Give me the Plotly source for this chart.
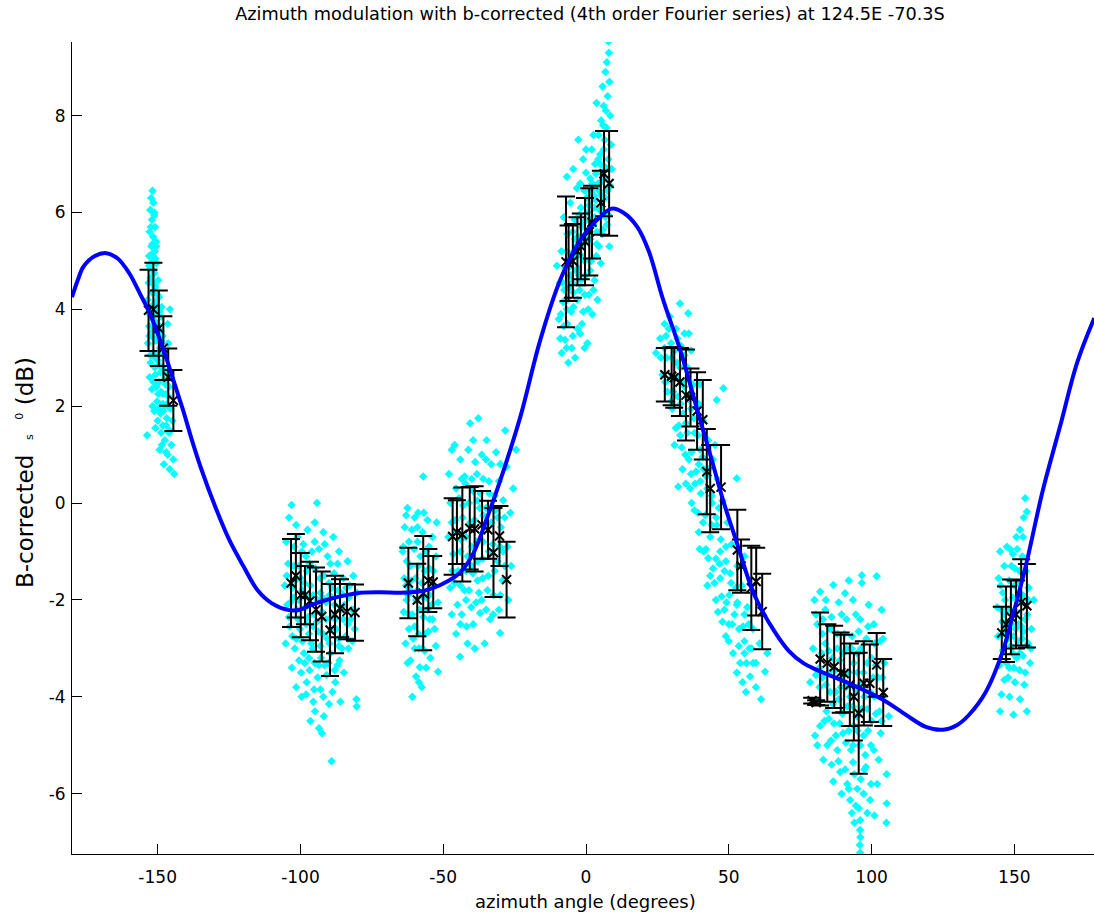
import plotly.graph_objects as go

# ---------------- data ----------------
title_text = "Azimuth modulation with b-corrected (4th order Fourier series) at 124.5E -70.3S"
x_title = "azimuth angle (degrees)"
y_title = ("B-corrected&nbsp;&nbsp;<span style='font-size:11px'>s</span>&nbsp;&nbsp;"
           "<sup><span style='font-size:11px'>0</span></sup>&nbsp;(dB)")

x_ticks = [-150, -100, -50, 0, 50, 100, 150]
x_ticktext = ["-150", "-100", "-50", "0", "50", "100", "150"]
y_ticks = [-6, -4, -2, 0, 2, 4, 6, 8]
y_ticktext = ["-6", "-4", "-2", "0", "2", "4", "6", "8"]

# fitted 4th-order Fourier curve
curve_x = [-180, -178, -176, -172, -168, -164, -160, -156, -153, -150, -147, -144, -141, -138,
           -135, -130, -125, -120, -115, -110, -104, -100, -97, -91, -84, -79, -72, -65, -59,
           -55, -51, -45, -40, -34, -29, -23, -16, -9, -2, 5, 9, 13, 18, 22, 27, 33, 39, 44,
           48, 53, 59, 66, 71, 76, 81, 92, 104, 112, 119, 125, 130, 134, 140, 146, 150, 154, 160,
           166, 172, 178]
curve_y = [4.25, 4.6, 4.88, 5.1, 5.16, 5.05, 4.75, 4.3, 3.95, 3.5, 3.0, 2.45, 1.9, 1.3,
           0.75, -0.05, -0.75, -1.3, -1.8, -2.07, -2.21, -2.2, -2.12, -2.0, -1.9, -1.85, -1.84,
           -1.85, -1.83, -1.78, -1.69, -1.48, -1.1, -0.2, 0.65, 1.78, 3.37, 4.61, 5.43, 5.91,
           6.08, 6.0, 5.7, 5.2, 4.2, 3.16, 1.92, 0.9, 0.06, -0.85, -1.9, -2.65, -3.05, -3.3, -3.45,
           -3.72, -4.06, -4.37, -4.62, -4.68, -4.58, -4.38, -3.9, -3.05, -2.2, -1.3, 0.27,
           1.58, 2.9, 3.82]

# binned means with +/- std error bars
bar_x = [-153.2, -151.5, -149.6, -148.0, -146.3, -144.5,
         -103.3, -101.6, -99.9, -98.4, -96.65, -94.55, -92.55, -89.65, -87.9, -86.15, -83.7, -80.9,
         -62.2, -59.1, -57.0, -55.2, -53.5,
         -46.7, -45.2, -43.3, -40.7, -39.0, -36.4, -34.3, -32.4, -30.3, -27.8,
         -7.0, -6.1, -4.6, -3.0, -1.8, -0.35, 1.15, 2.1, 5.2, 6.3, 8.1,
         27.6, 30.0, 30.9, 32.9, 35.0, 36.6, 38.9, 40.9, 42.3, 43.5, 47.3, 53.0, 54.3, 57.9, 59.6, 61.7,
         79.2, 80.6, 82.0, 84.5, 86.9, 89.2, 90.4, 92.4, 93.8, 95.5, 97.3, 99.4, 101.8, 104.1,
         145.6, 147.1, 148.8, 150.6, 152.4, 154.4]
bar_mean = [3.98, 4.0, 3.61, 3.2, 2.6, 2.12,
            -1.65, -1.5, -1.9, -1.9, -2.02, -2.2, -2.34, -2.62, -2.3, -2.17, -2.24, -2.26,
            -1.65, -2.0, -1.86, -1.6, -1.63,
            -0.69, -0.6, -0.65, -0.52, -0.53, -0.45, -0.55, -1.02, -0.68, -1.58,
            4.98, 4.95, 5.0, 5.2, 5.3, 5.4, 5.6, 5.8, 6.2, 6.8, 6.6,
            2.65, 2.62, 2.59, 2.5, 2.23, 2.18, 1.9, 1.72, 0.65, 0.3, 0.33, -0.97, -1.3, -1.75, -1.62, -2.24,
            -4.08, -4.12, -3.22, -3.3, -3.38, -3.5, -3.52, -3.75, -4.0, -4.34, -3.72, -3.72, -3.34, -3.91,
            -2.68, -2.5, -2.35, -2.3, -2.05, -2.12]
bar_err = [0.84, 0.96, 0.78, 0.66, 0.59, 0.63,
           0.91, 0.86, 0.87, 0.6, 0.81, 0.87, 0.93, 0.95, 0.8, 0.6, 0.57, 0.58,
           0.73, 0.75, 1.18, 0.65, 0.54,
           0.79, 0.66, 0.97, 0.85, 0.88, 0.7, 0.6, 0.92, 0.62, 0.78,
           1.35, 0.78, 0.76, 0.7, 0.68, 0.9, 0.9, 0.75, 0.66, 0.88, 1.08,
           0.55, 0.6, 0.62, 0.7, 0.94, 0.6, 0.8, 0.82, 0.88, 0.9, 0.87, 0.83, 0.55, 0.87, 0.7, 0.78,
           0.06, 0.05, 0.96, 0.8, 0.85, 0.83, 0.8, 0.85, 0.9, 1.25, 0.87, 0.8, 0.66, 0.69,
           0.54, 0.78, 0.77, 0.7, 0.89, 0.86]

# individual observations (cyan), one list per azimuth cluster
cloud_m150 = [(-151.8, 6.45), (-152.3, 6.3), (-151.5, 6.2), (-152.6, 6.05), (-151.2, 5.95), (-152.0, 5.85),
              (-150.9, 5.7), (-152.8, 5.6), (-151.6, 5.5), (-150.6, 5.4), (-152.2, 5.3), (-151.0, 5.2),
              (-153.0, 5.1), (-151.8, 5.0), (-150.4, 4.95), (-152.5, 4.85), (-151.2, 4.75), (-149.8, 4.6),
              (-153.2, 4.55), (-150.8, 4.45), (-152.0, 4.35), (-149.5, 4.25), (-153.5, 4.2), (-151.4, 4.1),
              (-150.2, 4.0), (-152.7, 3.9), (-148.8, 3.85), (-151.0, 3.75), (-153.0, 3.65), (-149.8, 3.6),
              (-152.2, 3.5), (-148.3, 3.45), (-150.6, 3.35), (-153.4, 3.3), (-149.2, 3.2), (-151.6, 3.1),
              (-147.6, 3.05), (-150.0, 2.95), (-152.5, 2.9), (-148.6, 2.8), (-146.8, 2.7), (-150.8, 2.65),
              (-149.5, 2.5), (-147.2, 2.45), (-152.0, 2.35), (-148.2, 2.25), (-146.2, 2.2), (-150.2, 2.1),
              (-147.5, 2.0), (-145.5, 1.95), (-149.0, 1.85), (-146.8, 1.75), (-144.8, 1.7), (-148.2, 1.6),
              (-150.8, 1.55), (-146.0, 1.45), (-153.7, 1.4), (-147.5, 1.3), (-145.2, 1.2), (-149.3, 1.1),
              (-146.5, 1.0), (-144.5, 0.9), (-147.8, 0.8), (-145.8, 0.7), (-144.2, 0.6), (-151.2, 1.9),
              (-145.5, 2.6), (-146.3, 3.3), (-148.6, 4.05), (-145.7, 4.0), (-146.5, 3.7),
              (-152.4, 4.65), (-151.0, 4.5), (-150.0, 4.3), (-152.8, 4.0), (-151.8, 3.8), (-150.6, 3.9),
              (-149.3, 3.95), (-152.0, 3.65), (-150.4, 3.55), (-148.8, 3.35), (-151.2, 3.4), (-149.8, 3.05),
              (-148.2, 3.1), (-151.0, 2.8), (-149.0, 2.7), (-147.8, 2.55), (-150.4, 2.4), (-148.8, 2.3),
              (-147.0, 2.25), (-149.7, 1.95), (-148.0, 1.9), (-146.6, 2.05), (-148.8, 1.45), (-147.0, 1.6),
              (-151.5, 4.8), (-150.8, 5.05), (-151.9, 5.15), (-152.4, 5.7), (-151.2, 6.0), (-152.9, 3.45),
              (-153.0, 4.9), (-152.0, 4.55), (-150.6, 4.15), (-151.6, 3.55), (-150.0, 3.7), (-149.0, 3.55),
              (-152.6, 3.05), (-151.0, 3.0), (-149.5, 2.85), (-148.0, 2.75), (-151.5, 2.5), (-149.8, 2.25),
              (-148.2, 2.05), (-146.0, 2.4), (-150.0, 1.7), (-148.5, 1.2), (-147.0, 1.05), (-145.8, 1.5),
              (-152.8, 2.6), (-151.8, 2.0), (-150.5, 5.3), (-151.8, 5.35)]
cloud_m95 = [(-103.1, -0.04), (-94.2, 0.0), (-104.0, -0.3), (-101.5, -0.45), (-97.5, -0.55), (-95.0, -0.4),
             (-92.0, -0.6), (-88.5, -0.7), (-105.0, -0.8), (-102.2, -0.9), (-99.0, -0.85), (-96.0, -1.0),
             (-93.5, -0.95), (-90.5, -1.1), (-86.5, -1.0), (-83.5, -1.2), (-104.3, -1.25), (-100.5, -1.3),
             (-97.8, -1.4), (-94.8, -1.35), (-91.8, -1.5), (-88.2, -1.45), (-85.0, -1.55), (-81.5, -1.5),
             (-105.5, -1.7), (-102.8, -1.75), (-99.3, -1.8), (-96.5, -1.7), (-93.0, -1.85), (-89.8, -1.9),
             (-86.8, -1.8), (-83.0, -1.95), (-80.2, -1.85), (-104.6, -2.1), (-101.2, -2.2), (-98.2, -2.15),
             (-95.2, -2.3), (-92.4, -2.25), (-89.0, -2.35), (-85.8, -2.2), (-82.3, -2.4), (-103.8, -2.55),
             (-100.2, -2.6), (-97.0, -2.7), (-93.8, -2.65), (-90.6, -2.8), (-87.5, -2.6), (-84.2, -2.75),
             (-81.0, -2.6), (-105.2, -2.9), (-102.0, -3.0), (-98.8, -3.1), (-95.7, -3.0), (-92.8, -3.2),
             (-89.5, -3.1), (-86.3, -3.25), (-83.2, -3.0), (-103.0, -3.4), (-99.8, -3.5), (-96.8, -3.45),
             (-94.0, -3.6), (-90.8, -3.55), (-87.8, -3.7), (-84.8, -3.5), (-101.5, -3.8), (-98.0, -3.95),
             (-95.2, -3.85), (-92.0, -4.0), (-88.8, -3.9), (-99.6, -4.0), (-94.9, -4.3), (-93.5, -4.65),
             (-91.8, -4.4), (-80.3, -4.2), (-80.4, -4.05), (-89.1, -5.33), (-96.5, -4.5), (-92.5, -4.75),
             (-86.0, -4.1),
             (-102.5, -1.3), (-100.0, -1.55), (-97.2, -1.95), (-94.0, -2.0), (-91.0, -2.05), (-88.0, -2.1),
             (-85.0, -2.4), (-82.0, -2.2), (-103.5, -2.05), (-100.8, -2.4), (-98.0, -2.5), (-95.5, -2.55),
             (-92.0, -2.7), (-89.2, -2.6), (-86.5, -2.95), (-83.5, -2.5), (-101.5, -2.8), (-98.5, -3.3),
             (-95.0, -3.3), (-91.5, -3.35), (-88.0, -3.45), (-85.5, -3.0), (-102.5, -1.95), (-99.5, -1.0),
             (-96.8, -1.25), (-93.2, -1.55), (-90.0, -1.65), (-87.0, -1.25), (-84.0, -1.75), (-81.8, -2.85),
             (-104.8, -1.5), (-101.8, -1.6), (-98.5, -1.65), (-95.5, -1.9), (-92.2, -1.95), (-89.0, -1.75),
             (-85.8, -1.85), (-82.8, -1.7), (-104.0, -2.35), (-100.6, -2.0), (-97.4, -2.35), (-94.2, -2.45),
             (-91.0, -2.4), (-87.8, -2.4), (-84.6, -2.1), (-81.4, -2.2), (-102.8, -2.75), (-99.4, -2.85),
             (-96.2, -2.9), (-93.0, -2.95), (-89.8, -2.9), (-86.6, -2.8), (-83.4, -2.8), (-100.5, -3.25),
             (-97.0, -3.2), (-93.6, -3.35), (-90.2, -3.3), (-87.0, -3.35), (-101.0, -0.7), (-98.0, -1.1),
             (-95.0, -0.8), (-91.5, -0.85), (-89.5, -1.25), (-97.8, -3.7), (-93.0, -3.85), (-90.0, -4.15),
             (-95.5, -4.1)]
cloud_m58 = [(-57.0, 0.55), (-62.5, -0.1), (-58.8, -0.2), (-55.5, -0.35), (-63.5, -0.5), (-61.0, -0.55),
             (-57.2, -0.6), (-53.8, -0.7), (-64.0, -0.9), (-60.2, -0.95), (-56.0, -1.0), (-52.5, -1.1),
             (-62.8, -1.2), (-58.8, -1.3), (-54.8, -1.35), (-63.6, -1.55), (-61.2, -1.6), (-57.5, -1.65),
             (-53.2, -1.7), (-62.3, -1.9), (-59.5, -2.0), (-55.8, -1.95), (-51.8, -2.05), (-63.8, -2.25),
             (-60.8, -2.3), (-57.0, -2.35), (-53.8, -2.4), (-62.0, -2.6), (-58.6, -2.7), (-55.2, -2.65),
             (-63.2, -2.9), (-60.0, -3.0), (-56.5, -3.05), (-52.6, -2.95), (-61.5, -3.25), (-58.2, -3.39),
             (-51.8, -3.48), (-59.5, -3.58), (-57.5, -3.8), (-60.8, -4.0), (-54.5, -3.2), (-64.2, -1.0),
             (-52.3, -0.4), (-59.0, -0.8), (-55.5, -2.2),
             (-61.5, -1.3), (-59.8, -1.55), (-58.0, -1.1), (-56.5, -1.4), (-54.8, -1.9), (-61.8, -2.3),
             (-60.0, -2.55), (-58.2, -2.2), (-56.2, -2.7), (-54.0, -2.1), (-62.8, -2.0), (-57.3, -3.0),
             (-59.0, -0.5), (-62.0, -0.8), (-53.5, -1.4),
             (-63.0, -0.25), (-60.0, -0.3), (-56.8, -0.2), (-55.0, -0.9), (-61.6, -1.8), (-59.0, -1.8),
             (-57.0, -1.95), (-54.8, -2.4), (-53.0, -2.6), (-63.0, -1.7), (-60.5, -2.8), (-58.5, -3.0),
             (-56.0, -3.4), (-62.5, -3.3), (-58.5, -3.7)]
cloud_m37 = [(-37.7, 1.75), (-40.6, 1.65), (-28.3, 1.5), (-34.8, 1.3), (-46.0, 1.2), (-47.0, 1.1),
             (-41.2, 1.1), (-36.5, 1.0), (-31.5, 1.05), (-44.0, 0.9), (-38.8, 0.85), (-33.2, 0.8),
             (-27.8, 0.75), (-48.0, 0.6), (-42.5, 0.55), (-36.0, 0.5), (-30.5, 0.45), (-45.5, 0.3),
             (-39.5, 0.25), (-33.8, 0.2), (-29.0, 0.06), (-47.5, 0.0), (-43.0, -0.05), (-37.2, -0.1),
             (-31.8, -0.15), (-26.5, -0.2), (-45.8, -0.35), (-40.5, -0.4), (-35.0, -0.45), (-29.8, -0.5),
             (-48.2, -0.7), (-43.8, -0.75), (-38.2, -0.8), (-32.6, -0.85), (-27.5, -0.9), (-46.5, -1.05),
             (-41.5, -1.1), (-36.2, -1.15), (-31.0, -1.2), (-26.2, -1.3), (-44.8, -1.4), (-39.6, -1.45),
             (-34.2, -1.5), (-29.2, -1.6), (-47.6, -1.75), (-42.6, -1.8), (-37.5, -1.85), (-32.4, -1.9),
             (-27.2, -2.0), (-45.0, -2.1), (-40.2, -2.15), (-37.1, -2.27), (-33.6, -2.4), (-41.8, -2.55),
             (-30.1, -2.68), (-45.5, -2.7), (-44.1, -3.17), (-35.5, -2.9), (-39.0, -3.0), (-25.5, 0.3),
             (-24.5, 1.1),
             (-45.0, -0.6), (-43.2, -0.3), (-41.0, 0.0), (-39.0, -0.35), (-37.0, 0.2), (-35.0, -0.1),
             (-33.2, -0.4), (-31.0, -0.3), (-29.0, -1.0), (-46.8, -1.4), (-44.0, -1.0), (-42.0, -1.4),
             (-40.0, -0.9), (-38.0, -1.2), (-36.0, -0.8), (-34.0, -1.0), (-32.0, -1.4), (-30.0, -1.9),
             (-43.5, -2.3), (-41.0, -1.8), (-38.5, -2.05), (-36.2, -1.55), (-35.0, -2.2), (-42.2, 0.4),
             (-38.2, 0.6),
             (-47.0, -0.4), (-44.5, 0.1), (-42.0, -0.7), (-40.0, 0.5), (-38.0, 0.05), (-36.0, -0.25),
             (-34.0, 0.45), (-32.0, 0.15), (-30.0, -0.9), (-28.5, -0.3), (-46.0, -1.65), (-44.0, -1.7),
             (-42.0, -2.0), (-40.0, -1.3), (-38.0, -1.6), (-36.5, -2.0), (-34.5, -1.8), (-32.5, -2.3),
             (-30.5, -2.2), (-28.5, -1.3), (-44.0, -2.5), (-41.5, -2.9), (-39.5, -2.5), (-47.0, -2.3),
             (-35.0, 0.9), (-39.5, 1.3), (-43.5, 0.5), (-30.0, 0.8)]
cloud_0 = [(7.9, 9.53), (7.3, 9.1), (8.2, 8.7), (6.8, 8.9), (7.6, 8.4), (3.7, 8.26), (6.2, 8.2), (8.5, 8.0),
           (5.3, 7.9), (7.2, 7.75), (-2.7, 7.5), (4.4, 7.6), (6.5, 7.5), (8.8, 7.4), (2.0, 7.3), (5.0, 7.2),
           (-1.0, 7.1), (7.8, 7.1), (3.2, 7.0), (-4.5, 6.9), (0.0, 6.82), (6.0, 6.85), (-6.7, 6.74), (1.5, 6.7),
           (4.2, 6.6), (8.5, 6.55), (-3.2, 6.5), (-0.5, 6.45), (2.8, 6.35), (6.8, 6.3), (-5.5, 6.2), (-1.8, 6.1),
           (1.0, 6.15), (4.8, 6.05), (7.8, 5.95), (-7.8, 5.9), (-4.0, 5.85), (-0.8, 5.8), (2.5, 5.75), (6.0, 5.65),
           (-6.5, 5.55), (-2.8, 5.5), (0.5, 5.45), (3.8, 5.35), (8.2, 5.3), (-8.6, 5.2), (-5.0, 5.15), (-1.5, 5.1),
           (1.8, 5.0), (5.2, 4.95), (-7.2, 4.85), (-3.6, 4.8), (-0.2, 4.7), (3.0, 4.6), (-9.2, 4.55), (-5.8, 4.45),
           (-2.2, 4.4), (1.0, 4.3), (-8.0, 4.15), (-4.4, 4.05), (-1.0, 3.95), (2.2, 3.9), (-9.5, 3.8), (-6.5, 3.7),
           (-3.0, 3.6), (-2.1, 3.5), (-7.3, 3.37), (-5.0, 3.2), (-8.5, 3.1), (-3.8, 3.0), (-6.2, 2.9), (0.5, 3.3),
           (9.0, 6.9), (4.0, 4.2), (-10.2, 4.9),
           (-5.5, 4.9), (-3.5, 5.3), (-1.0, 5.35), (0.8, 5.65), (3.0, 5.9), (5.5, 6.35), (7.0, 6.7),
           (-6.5, 4.2), (-4.8, 4.55), (-2.8, 4.85), (-0.5, 5.0), (1.5, 5.45), (3.8, 5.6), (5.8, 6.05),
           (7.5, 6.45), (-8.2, 4.55), (-6.0, 5.0), (-3.8, 5.45), (-1.5, 5.7), (0.5, 6.0), (2.8, 6.1),
           (4.6, 6.45), (6.5, 6.95), (-7.8, 3.65), (-5.2, 3.95), (-3.0, 4.2), (-1.8, 4.6), (5.0, 7.0),
           (3.5, 6.8), (1.8, 6.45),
           (-6.8, 5.2), (-4.6, 5.6), (-2.3, 5.95), (0.2, 6.3), (2.2, 6.6), (4.3, 7.1), (6.2, 7.3),
           (-7.6, 4.4), (-5.4, 4.7), (-3.2, 5.1), (-0.9, 5.5), (1.2, 5.85), (3.4, 6.25), (5.6, 6.65),
           (7.8, 6.9), (-8.8, 3.9), (-6.7, 4.0), (-4.4, 4.35), (-2.4, 4.7), (-0.4, 4.3), (1.5, 4.8),
           (3.6, 5.1), (5.6, 5.55), (7.4, 5.75), (-9.0, 3.4), (-6.8, 3.2), (-4.6, 3.45), (-1.4, 3.7),
           (0.8, 4.0), (2.6, 4.4), (4.5, 5.3), (6.8, 5.9), (-2.0, 6.6), (0.0, 7.3), (2.6, 7.6), (6.0, 7.8),
           (7.0, 8.1), (5.8, 8.6), (8.0, 9.3), (-0.5, 3.2)]
cloud_45 = [(32.9, 4.12), (35.8, 3.92), (29.4, 3.85), (27.5, 3.7), (31.5, 3.6), (34.5, 3.5), (26.0, 3.4),
            (29.8, 3.3), (33.2, 3.25), (36.8, 3.15), (24.5, 3.1), (28.2, 3.0), (31.8, 2.9), (35.5, 2.8),
            (26.8, 2.65), (30.2, 2.6), (33.8, 2.5), (37.5, 2.45), (28.5, 2.3), (32.2, 2.2), (35.8, 2.15),
            (39.5, 2.05), (45.8, 2.13), (48.1, 2.37), (30.2, 1.95), (34.0, 1.85), (37.8, 1.75), (41.0, 1.7),
            (31.5, 1.55), (35.5, 1.45), (39.2, 1.4), (42.8, 1.3), (33.5, 1.15), (37.0, 1.05), (40.8, 0.95),
            (44.5, 0.9), (33.8, 0.7), (38.5, 0.65), (42.2, 0.55), (46.0, 0.5), (52.8, 0.51), (32.3, 0.34),
            (36.5, 0.3), (40.2, 0.2), (44.0, 0.15), (47.8, 0.05), (38.0, -0.15), (41.8, -0.25), (45.6, -0.3),
            (49.5, -0.4), (39.5, -0.6), (43.5, -0.7), (47.2, -0.75), (51.0, -0.85), (41.2, -1.0), (42.8, -1.14),
            (45.5, -1.15), (49.0, -1.2), (53.0, -1.3), (43.5, -1.5), (47.0, -1.55), (50.8, -1.65), (54.6, -1.7),
            (47.5, -1.93), (45.5, -2.0), (49.2, -2.05), (52.8, -2.1), (56.5, -2.15), (47.8, -2.45), (51.2, -2.5),
            (55.0, -2.55), (58.5, -2.6), (50.0, -2.85), (53.5, -2.95), (57.2, -3.0), (60.8, -2.9), (54.0, -3.3),
            (57.5, -3.58), (62.7, -3.48), (59.5, -3.8), (61.3, -4.05), (56.0, -3.9), (63.5, -3.1), (55.5, -1.1),
            (36.0, 3.5),
            (29.0, 3.6), (31.0, 3.15), (33.0, 2.8), (34.5, 2.4), (36.8, 1.95), (38.0, 1.45), (40.0, 1.1),
            (41.2, 0.7), (42.5, 0.3), (44.2, 0.0), (45.8, -0.45), (47.0, -1.0), (48.5, -1.4), (50.2, -1.9),
            (52.0, -2.3), (53.6, -2.6), (55.5, -2.85), (56.2, -3.3), (30.5, 2.3), (32.5, 1.6), (36.0, 0.9),
            (38.2, 0.4), (41.0, -0.4), (44.5, -1.35), (50.0, -2.5), (54.8, -3.7), (58.5, -3.3), (27.5, 3.2),
            (39.8, 2.45), (45.2, 1.2),
            (26.2, 3.0), (28.0, 3.45), (30.0, 3.0), (32.0, 3.4), (34.5, 3.05), (27.8, 2.5), (29.8, 2.1),
            (31.8, 2.6), (33.2, 2.05), (35.0, 1.65), (37.0, 2.25), (31.0, 1.2), (33.0, 1.4), (34.8, 1.0),
            (36.8, 0.6), (39.5, 0.8), (35.0, 0.4), (37.0, 0.0), (39.2, -0.2), (40.0, 0.45), (43.0, 0.7),
            (39.8, -0.95), (42.0, -0.95), (44.0, -0.45), (46.5, -0.1), (42.5, -1.7), (45.0, -1.65),
            (46.8, -1.25), (49.0, -0.9), (46.2, -2.25), (48.5, -2.2), (50.5, -1.45), (52.5, -1.75),
            (49.0, -2.75), (51.5, -3.1), (53.0, -2.05), (55.5, -2.3), (52.8, -3.5), (55.5, -3.1), (58.0, -3.0),
            (57.0, -2.5), (59.5, -3.3)]
cloud_92 = [(96.6, -1.49), (101.8, -1.51), (96.6, -1.65), (86.6, -1.69), (82.0, -1.83), (90.7, -1.86),
            (84.0, -2.0), (88.5, -2.05), (93.5, -2.0), (99.0, -2.1), (103.5, -2.2), (80.5, -2.3), (86.0, -2.35),
            (91.2, -2.4), (96.0, -2.4), (100.8, -2.5), (82.8, -2.7), (88.0, -2.7), (93.2, -2.75), (98.2, -2.8),
            (103.0, -2.85), (79.5, -3.0), (85.0, -3.05), (90.0, -3.1), (95.0, -3.1), (100.0, -3.2), (104.5, -3.3),
            (81.8, -3.4), (87.2, -3.45), (92.2, -3.5), (97.2, -3.5), (102.2, -3.6), (78.5, -3.7), (84.0, -3.75),
            (89.2, -3.8), (94.5, -3.85), (99.5, -3.9), (104.0, -4.0), (81.0, -4.1), (86.5, -4.15), (91.5, -4.2),
            (96.6, -4.25), (101.5, -4.35), (83.5, -4.5), (88.8, -4.55), (93.8, -4.6), (98.8, -4.7), (103.2, -4.75),
            (80.2, -4.8), (85.8, -4.9), (91.0, -4.95), (96.0, -5.0), (100.8, -5.1), (83.1, -5.3), (88.4, -5.33),
            (93.5, -5.35), (98.0, -5.45), (105.3, -5.6), (86.6, -5.75), (91.5, -5.8), (96.2, -5.7), (102.0, -5.8),
            (92.5, -6.13), (99.5, -6.13), (94.5, -6.25), (93.1, -6.4), (96.0, -6.55), (105.3, -6.2), (105.2, -6.6),
            (96.0, -6.75), (96.1, -6.9), (95.9, -7.06), (96.0, -7.22), (89.5, -6.0), (101.0, -6.45), (80.0, -2.0),
            (106.0, -4.4),
            (83.0, -2.4), (85.5, -2.6), (88.0, -3.0), (90.5, -2.7), (93.0, -3.0), (95.5, -2.65), (98.5, -3.3),
            (101.0, -2.9), (103.8, -3.6), (82.5, -3.1), (85.0, -3.5), (87.5, -3.9), (90.0, -3.55), (92.5, -4.0),
            (95.0, -3.5), (97.5, -4.0), (100.5, -3.6), (102.8, -4.3), (81.8, -3.8), (84.2, -4.3), (86.8, -4.55),
            (89.8, -4.35), (92.0, -4.7), (94.8, -4.4), (97.2, -4.8), (100.0, -4.5), (84.5, -5.0), (88.0, -5.1),
            (90.8, -5.5), (93.5, -5.0), (95.0, -5.9), (97.8, -5.2), (99.8, -5.8), (94.0, -6.6), (98.5, -6.4),
            (81.0, -2.5), (83.8, -2.9), (86.3, -3.2), (88.8, -3.25), (91.3, -3.0), (93.8, -3.3), (96.3, -3.0),
            (98.8, -2.55), (101.5, -3.35), (104.0, -2.8), (80.5, -3.55), (82.8, -3.6), (85.5, -3.9), (88.5, -4.05),
            (91.0, -3.8), (93.5, -4.2), (96.0, -3.75), (98.5, -4.25), (101.0, -4.0), (103.5, -4.5), (82.0, -4.6),
            (85.0, -4.45), (87.5, -4.8), (90.0, -4.75), (92.8, -5.1), (95.0, -4.7), (97.5, -5.5), (99.8, -5.0),
            (102.5, -5.3), (86.0, -5.4), (89.0, -5.55), (94.0, -5.6), (95.5, -6.3), (97.2, -6.0), (92.0, -5.9),
            (81.0, -5.0), (83.8, -2.2), (89.5, -2.3), (94.5, -2.3), (92.0, -1.6)]
cloud_150 = [(153.8, 0.1), (153.3, -0.3), (154.4, -0.18), (152.0, -0.55), (150.7, -0.7), (147.4, -0.9),
             (145.0, -1.0), (149.5, -1.05), (152.8, -1.1), (146.5, -1.3), (150.2, -1.35), (154.0, -1.4),
             (144.5, -1.55), (148.2, -1.6), (151.5, -1.65), (155.0, -1.75), (146.0, -1.85), (149.5, -1.95),
             (153.0, -1.9), (144.0, -2.15), (147.5, -2.2), (150.8, -2.25), (154.5, -2.3), (145.8, -2.45),
             (149.0, -2.5), (152.5, -2.55), (156.0, -2.6), (144.3, -2.75), (147.8, -2.8), (151.2, -2.85),
             (154.8, -2.9), (146.0, -3.05), (149.5, -3.1), (153.0, -3.15), (144.8, -3.35), (148.2, -3.4),
             (151.8, -3.45), (155.5, -3.3), (146.5, -3.65), (150.2, -3.7), (153.5, -3.75), (148.3, -4.0),
             (145.5, -3.95), (152.0, -4.05), (149.7, -4.37), (154.4, -4.3), (145.0, -4.3), (156.8, -2.0),
             (146.8, -2.0), (148.5, -2.2), (150.0, -1.7), (152.0, -2.0), (153.8, -2.4), (147.0, -2.6),
             (148.8, -2.95), (150.5, -2.6), (152.8, -2.8), (145.5, -2.2), (147.2, -3.3), (150.8, -3.2),
             (149.0, -1.3), (151.0, -0.95), (153.0, -0.7),
             (145.2, -1.7), (146.5, -2.3), (148.0, -2.5), (149.8, -2.75), (151.5, -2.5), (153.2, -2.65),
             (154.8, -2.0), (146.0, -2.7), (147.8, -3.6), (149.8, -3.4), (152.0, -3.1), (153.8, -3.5),
             (151.8, -1.4), (148.5, -0.95), (155.8, -3.0)]

clouds = [cloud_m150, cloud_m95, cloud_m58, cloud_m37, cloud_0, cloud_45, cloud_92, cloud_150]
obs_x = [p[0] for c in clouds for p in c]
obs_y = [p[1] for c in clouds for p in c]

# ---------------- figure ----------------
FONT = "DejaVu Sans, Liberation Sans, Arial, sans-serif"
W, H = 1094, 916
L, R, T, B = 72, 0, 42, 62
PW, PH = W - L - R, H - T - B

fig = go.Figure()

fig.add_trace(go.Scatter(
    x=obs_x, y=obs_y, mode="markers",
    marker=dict(symbol="diamond", size=6.5, color="#00FFFF", line=dict(width=0)),
    hoverinfo="skip", showlegend=False))

fig.add_trace(go.Scatter(
    x=bar_x, y=bar_mean, mode="markers",
    marker=dict(symbol="x-thin", size=9, color="black", line=dict(width=2, color="black")),
    error_y=dict(type="data", array=bar_err, visible=True, color="black", thickness=2, width=9),
    showlegend=False))

fig.add_trace(go.Scatter(
    x=curve_x, y=curve_y, mode="lines",
    line=dict(color="#0000FF", width=4, shape="spline", smoothing=1.0),
    showlegend=False))

fig.update_layout(
    width=W, height=H,
    margin=dict(l=L, r=R, t=T, b=B, autoexpand=False),
    paper_bgcolor="white", plot_bgcolor="white",
    font=dict(family=FONT, size=17, color="black"),
    title=dict(text=title_text, xref="paper", x=(590 - L) / PW, xanchor="center",
               yref="container", y=1 - 14 / H, yanchor="middle",
               font=dict(family=FONT, size=17.7, color="black")),
    showlegend=False,
    annotations=[
        dict(text=x_title, xref="paper", yref="paper", x=(585 - L) / PW, y=(T + PH - 902) / PH,
             xanchor="center", yanchor="middle", showarrow=False,
             font=dict(family=FONT, size=18, color="black")),
        dict(text=y_title, xref="paper", yref="paper", x=(25 - L) / PW, y=(T + PH - 473) / PH,
             xanchor="center", yanchor="middle", showarrow=False, textangle=-90,
             font=dict(family=FONT, size=23, color="black")),
    ],
)
fig.update_xaxes(
    range=[-180, 177.9], tickmode="array", tickvals=x_ticks, ticktext=x_ticktext,
    ticks="inside", ticklen=10, tickwidth=1, tickcolor="black",
    showline=True, linecolor="black", linewidth=1, mirror=False,
    showgrid=False, zeroline=False, automargin=False, ticklabelstandoff=8,
)
fig.update_yaxes(
    range=[-7.245, 9.52], tickmode="array", tickvals=y_ticks, ticktext=y_ticktext,
    ticks="inside", ticklen=10, tickwidth=1, tickcolor="black",
    showline=True, linecolor="black", linewidth=1, mirror=False,
    showgrid=False, zeroline=False, automargin=False, ticklabelstandoff=2,
)

fig.write_html("out.html", config={"displayModeBar": False},
               post_script="document.body.style.margin='0';document.body.style.overflow='hidden';")
